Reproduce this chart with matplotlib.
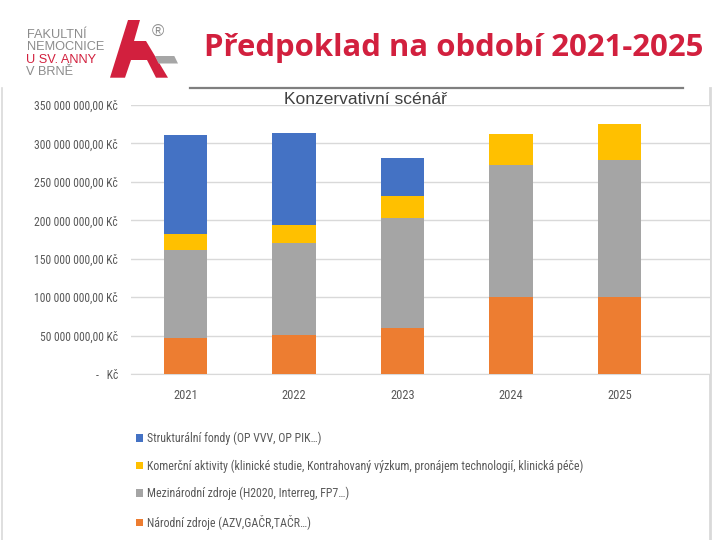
import matplotlib
matplotlib.use("Agg")
import matplotlib.pyplot as plt
from matplotlib import font_manager as fm
from matplotlib.patches import Polygon
from matplotlib.ticker import FuncFormatter, MultipleLocator
import numpy as np

years = ["2021", "2022", "2023", "2024", "2025"]
narodni = [47e6, 51e6, 60e6, 100e6, 100e6]
mezinarodni = [114e6, 119e6, 143e6, 172e6, 179e6]
komercni = [21e6, 23.5e6, 29e6, 40e6, 46e6]
strukturalni = [129e6, 120e6, 49e6, 0, 0]

labels = [
    "Strukturální fondy (OP VVV, OP PIK…)",
    "Komerční aktivity (klinické studie, Kontrahovaný výzkum, pronájem technologií, klinická péče)",
    "Mezinárodní zdroje (H2020, Interreg, FP7…)",
    "Národní zdroje (AZV,GAČR,TAČR…)",
]
colors = {"str": "#4472C4", "kom": "#FFC000", "mez": "#A5A5A5", "nar": "#ED7D31"}


def pick(*names):
    for n in names:
        try:
            fm.findfont(fm.FontProperties(family=n), fallback_to_default=False)
            return n
        except Exception:
            continue
    return "DejaVu Sans"

narrow = pick("Liberation Sans Narrow", "Roboto Condensed", "Open Sans Condensed", "Liberation Sans")
arial = pick("Liberation Sans", "Arial", "DejaVu Sans")
titlef = pick("Open Sans", "Lato", "DejaVu Sans")

W, H = 720, 540
fig = plt.figure(figsize=(7.2, 5.4), dpi=100)

def fx(x):
    return x / W

def fy(y):
    return 1 - y / H

# main chart axes
ax = fig.add_axes([fx(131), fy(374), fx(710) - fx(131), fy(105) - fy(374)])
x = np.arange(len(years))
bw = 0.40
b1 = ax.bar(x, narodni, bw, color=colors["nar"], zorder=3)
bottom = np.array(narodni)
b2 = ax.bar(x, mezinarodni, bw, bottom=bottom, color=colors["mez"], zorder=3)
bottom = bottom + np.array(mezinarodni)
b3 = ax.bar(x, komercni, bw, bottom=bottom, color=colors["kom"], zorder=3)
bottom = bottom + np.array(komercni)
b4 = ax.bar(x, strukturalni, bw, bottom=bottom, color=colors["str"], zorder=3)

ax.set_xlim(-0.502, 4.834)
ax.set_ylim(0, 350e6)
ax.yaxis.set_major_locator(MultipleLocator(50e6))


def kc(v, pos):
    if abs(v) < 1:
        return "-   Kč"
    s = f"{v:,.2f}".replace(",", " ").replace(".", ",")
    return s + " Kč"

ax.yaxis.set_major_formatter(FuncFormatter(kc))
ax.grid(axis="y", color="#d9d9d9", linewidth=1.0, zorder=0)
for s in ["top", "right", "left"]:
    ax.spines[s].set_visible(False)
ax.spines["bottom"].set_color("#d9d9d9")
ax.tick_params(axis="both", length=0, colors="#595959")
ax.tick_params(axis="y", pad=9.5)
ax.tick_params(axis="x", pad=10.5)
ax.set_xticks(x)
ax.set_xticklabels(years)
for t in ax.get_yticklabels():
    t.set_fontfamily(narrow)
    t.set_fontsize(8.4)
for t in ax.get_xticklabels():
    t.set_fontfamily(narrow)
    t.set_fontsize(9)

# legend
fig.legend([b4, b3, b2, b1], labels, loc="upper left",
           bbox_to_anchor=(fx(136), fy(431.5)), frameon=False,
           prop={"family": narrow, "size": 8.6}, labelcolor="#595959",
           handlelength=0.6, handleheight=0.6, handletextpad=0.35,
           labelspacing=1.2, borderaxespad=0, borderpad=0)

# overlay for decorations (pixel coords)
ov = fig.add_axes([0, 0, 1, 1], zorder=-1)
ov.set_xlim(0, W)
ov.set_ylim(H, 0)
ov.axis("off")

# frame lines
ov.plot([2, 2], [88, 540], color="#d9d9d9", lw=1.2)
ov.plot([710, 710], [88, 540], color="#d9d9d9", lw=2)
ov.plot([190, 683], [87.5, 87.5], color="#7f7f7f", lw=1.6)

# title
fig.text(fx(454), fy(48), "Předpoklad na období 2021-2025", ha="center", va="center",
         fontsize=22.4, fontweight="bold", color="#D2203E", family=titlef)
fig.text(fx(365), fy(99), "Konzervativní scénář", ha="center", va="center",
         fontsize=12.5, color="#404040", family=arial)

# logo text
logo_lines = [("FAKULTNÍ", "#8c8c8c"), ("NEMOCNICE", "#8c8c8c"),
              ("U SV. ANNY", "#D2203E"), ("V BRNĚ", "#8c8c8c")]
for i, (t, c) in enumerate(logo_lines):
    fig.text(fx(26.5), fy(37.5 + 12.6 * i), t, ha="left", va="baseline",
             fontsize=9.2, color=c, family=arial)

# logo mark
red_pts = [(110, 77.7), (128, 20), (140, 20), (134, 41), (146, 41),
           (168, 77.7), (156, 77.7), (147, 60), (131, 60), (125, 77.7)]
ov.add_patch(Polygon(red_pts, closed=True, color="#D2203E", lw=0))
gray_pts = [(155, 56), (174.3, 56), (178, 63.5), (158.5, 63.5)]
ov.add_patch(Polygon(gray_pts, closed=True, color="#a6a6a6", lw=0))
fig.text(fx(158), fy(32), "®", ha="center", va="center", fontsize=12,
         color="#8c8c8c", family=arial)

fig.savefig("out.png", dpi=100)
